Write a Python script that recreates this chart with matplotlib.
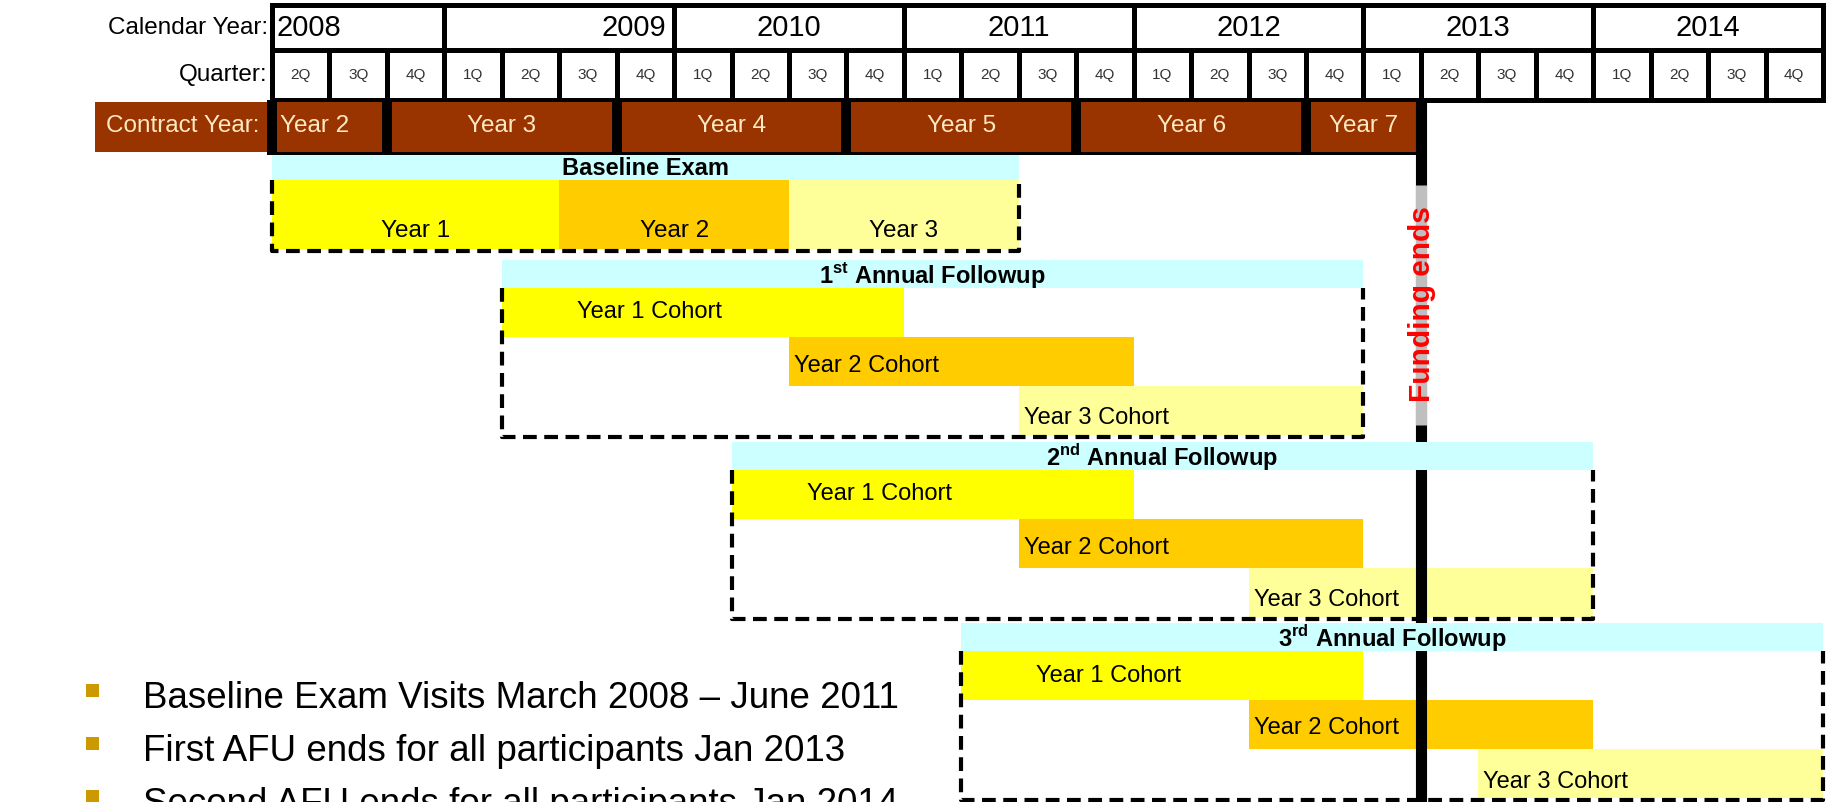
import matplotlib
matplotlib.use("Agg")
import matplotlib.pyplot as plt
from matplotlib.patches import Rectangle

# ---------------- data ----------------
calendar_years = ["2008", "2009", "2010", "2011", "2012", "2013", "2014"]
year_start = [2008.25, 2009.0, 2010.0, 2011.0, 2012.0, 2013.0, 2014.0]
year_end = [2009.0, 2010.0, 2011.0, 2012.0, 2013.0, 2014.0, 2015.0]
quarters = ["2Q", "3Q", "4Q"] + ["1Q", "2Q", "3Q", "4Q"] * 6

contract_labels = ["Year 2", "Year 3", "Year 4", "Year 5", "Year 6", "Year 7"]
contract_start = [2008.25, 2008.75, 2009.75, 2010.75, 2011.75, 2012.75]
contract_end = [2008.75, 2009.75, 2010.75, 2011.75, 2012.75, 2013.25]
funding_end = 2013.25

baseline_title = "Baseline Exam"
baseline_labels = ["Year 1", "Year 2", "Year 3"]
baseline_start = [2008.25, 2009.5, 2010.5]
baseline_end = [2009.5, 2010.5, 2011.5]

afu_titles = [r"1$^{\mathbf{st}}$ Annual Followup",
              r"2$^{\mathbf{nd}}$ Annual Followup",
              r"3$^{\mathbf{rd}}$ Annual Followup"]
cohort_labels = ["Year 1 Cohort", "Year 2 Cohort", "Year 3 Cohort"]
afu_start = [2009.25, 2010.25, 2011.25]
afu_end = [2013.0, 2014.0, 2015.0]
cohort_start = [[2009.25, 2010.5, 2011.5],
                [2010.25, 2011.5, 2012.5],
                [2011.25, 2012.5, 2013.5]]
cohort_end = [[2011.0, 2012.0, 2013.0],
              [2012.0, 2013.0, 2014.0],
              [2013.0, 2014.0, 2015.0]]

bullets = ["Baseline Exam Visits March 2008 \u2013 June 2011",
           "First AFU ends for all participants Jan 2013",
           "Second AFU ends for all participants Jan 2014"]

# ---------------- style / layout ----------------
W, H = 1830, 802
PXY = 229.8                     # pixels per year
X_LEFT_PX = 272                 # pixel of first quarter start
X0 = year_start[0] - X_LEFT_PX / PXY
X1 = year_end[-1] + (W - 1823) / PXY
PX = 1.0 / PXY                  # one pixel in years

CYAN = "#ccffff"
COH_COLORS = ["#ffff00", "#ffcc00", "#ffff99"]
BROWN = "#993300"
CREAM = "#ffe9c4"
NARROW = ["Liberation Sans Narrow", "Liberation Sans", "DejaVu Sans"]
ARIAL = ["Liberation Sans", "DejaVu Sans"]

plt.rcParams["mathtext.fontset"] = "custom"
plt.rcParams["mathtext.rm"] = "Liberation Sans"
plt.rcParams["mathtext.bf"] = "Liberation Sans:bold"

fig = plt.figure(figsize=(W / 100, H / 100), dpi=100)
ax = fig.add_axes([0, 0, 1, 1])
ax.set_xlim(X0, X1)
ax.set_ylim(H, 0)
ax.axis("off")

GRID_LW = 3.6
LABEL_FS = 17.5
# --- calendar row ---
CAL_T, CAL_B = 5, 50
for i, (lab, s, e) in enumerate(zip(calendar_years, year_start, year_end)):
    ax.add_patch(Rectangle((s, CAL_T), e - s, CAL_B - CAL_T, fc="white",
                           ec="black", lw=GRID_LW, zorder=3))
    if i == 0:
        x, ha = s + 5 * PX, "left"
    elif i == 1:
        x, ha = e - 8 * PX, "right"
    else:
        x, ha = (s + e) / 2, "center"
    ax.text(x, (CAL_T + CAL_B) / 2 + 1, lab, ha=ha, va="center",
            fontsize=21, family=NARROW, zorder=5)
ax.text(X0 + 268 * PX, (CAL_T + CAL_B) / 2 + 1, "Calendar Year:", ha="right",
        va="center", fontsize=LABEL_FS, family=NARROW)

# --- quarter row ---
Q_T, Q_B = 50, 100
for i, q in enumerate(quarters):
    s = year_start[0] + 0.25 * i
    ax.add_patch(Rectangle((s, Q_T), 0.25, Q_B - Q_T, fc="white", ec="black",
                           lw=GRID_LW, zorder=2))
    ax.text(s + 0.125, (Q_T + Q_B) / 2, q, ha="center", va="center",
            fontsize=11, family=NARROW, color="#333333", zorder=5)
ax.text(X0 + 268 * PX, (Q_T + Q_B) / 2, "Quarter:", ha="right", va="center",
        fontsize=LABEL_FS, family=NARROW)

# --- contract year row ---
C_T, C_B = 100, 155
GAP = 5 * PX
ax.add_patch(Rectangle((contract_start[0] - GAP, C_T), contract_end[-1] - contract_start[0] + 2 * GAP,
                       C_B - C_T, fc="black", ec="none", zorder=2))
ax.add_patch(Rectangle((X0 + 95 * PX, C_T + 2), contract_start[0] - GAP - (X0 + 95 * PX),
                       C_B - C_T - 5, fc=BROWN, ec="none", zorder=2))
ax.text(X0 + 260 * PX, (C_T + C_B) / 2 - 1, "Contract Year:", ha="right", va="center",
        fontsize=LABEL_FS, family=NARROW, color=CREAM, zorder=5)
for lab, s, e in zip(contract_labels, contract_start, contract_end):
    ax.add_patch(Rectangle((s + GAP, C_T + 2), e - s - 2 * GAP, C_B - C_T - 5,
                           fc=BROWN, ec="none", zorder=2.5))
    if lab == contract_labels[0]:
        ax.text(s + GAP + 3 * PX, (C_T + C_B) / 2 - 1, lab, ha="left", va="center",
                fontsize=LABEL_FS, family=NARROW, color=CREAM, zorder=5)
    else:
        ax.text((s + e) / 2, (C_T + C_B) / 2 - 1, lab, ha="center", va="center",
                fontsize=LABEL_FS, family=NARROW, color=CREAM, zorder=5)

# --- funding line ---
ax.plot([funding_end, funding_end], [C_T, H], color="black", lw=8,
        solid_capstyle="butt", zorder=3)
ax.plot([funding_end, funding_end], [185, 425], color="#bfbfbf", lw=8,
        solid_capstyle="butt", zorder=3.1)
ax.text(funding_end + 1 * PX, 304, "Funding ends", rotation=90, ha="center", va="center",
        fontsize=21.5, fontweight="bold", family=ARIAL, color="#ff0000", zorder=6)

DASH = (0, (3.3, 1.8))
DASH_LW = 3.0

def dashed_box(s, e, top, bot):
    ax.plot([s, s, e, e], [top, bot, bot, top], color="black", lw=DASH_LW,
            ls=DASH, dash_capstyle="butt", zorder=4)

# --- baseline exam ---
B_CT, B_CB, B_BB, B_DB = 155, 180, 249, 251
ax.barh((B_CT + B_CB) / 2, baseline_end[-1] - baseline_start[0], height=B_CB - B_CT,
        left=baseline_start[0], color=CYAN, zorder=4)
ax.text((baseline_start[0] + baseline_end[-1]) / 2, (B_CT + B_CB) / 2 + 1, baseline_title,
        ha="center", va="center", fontsize=17, fontweight="bold", family=ARIAL, zorder=6)
for lab, s, e, c in zip(baseline_labels, baseline_start, baseline_end, COH_COLORS):
    ax.barh((B_CB + B_BB) / 2, e - s, height=B_BB - B_CB, left=s, color=c, zorder=2)
    ax.text((s + e) / 2, 231, lab, ha="center", va="center", fontsize=LABEL_FS,
            family=NARROW, zorder=6)
dashed_box(baseline_start[0], baseline_end[-1], B_CB, B_DB)

# --- annual follow-ups ---
afu_top = [260, 442, 623]
CYAN_H = 28
ROW_H = 49
label_off = [75 * PX, 5 * PX, 5 * PX]
label_dy = [0, 4, 8]
for k in range(3):
    top = afu_top[k]
    cb = top + CYAN_H
    ax.barh(top + CYAN_H / 2, afu_end[k] - afu_start[k], height=CYAN_H, left=afu_start[k],
            color=CYAN, zorder=4)
    ax.text((afu_start[k] + afu_end[k]) / 2, top + CYAN_H / 2 + 1, afu_titles[k],
            ha="center", va="center", fontsize=17, fontweight="bold", family=ARIAL, zorder=6)
    for j in range(3):
        rt = cb + j * ROW_H
        s, e = cohort_start[k][j], cohort_end[k][j]
        ax.barh(rt + ROW_H / 2, e - s, height=ROW_H, left=s, color=COH_COLORS[j], zorder=2)
        ax.text(s + label_off[j], rt + ROW_H / 2 + label_dy[j], cohort_labels[j], ha="left",
                va="center", fontsize=17, family=NARROW, zorder=6)
    dashed_box(afu_start[k], afu_end[k], cb, cb + 3 * ROW_H + 2)

# --- bullets ---
for i, b in enumerate(bullets):
    base = 708 + 53 * i
    ax.add_patch(Rectangle((X0 + 86 * PX, base - 24), 13 * PX, 13, fc="#cc9900",
                           ec="none", zorder=5))
    ax.text(X0 + 143 * PX, base, b, ha="left", va="baseline", fontsize=26.5,
            family=ARIAL, zorder=6)

fig.savefig("out.png", dpi=100)
